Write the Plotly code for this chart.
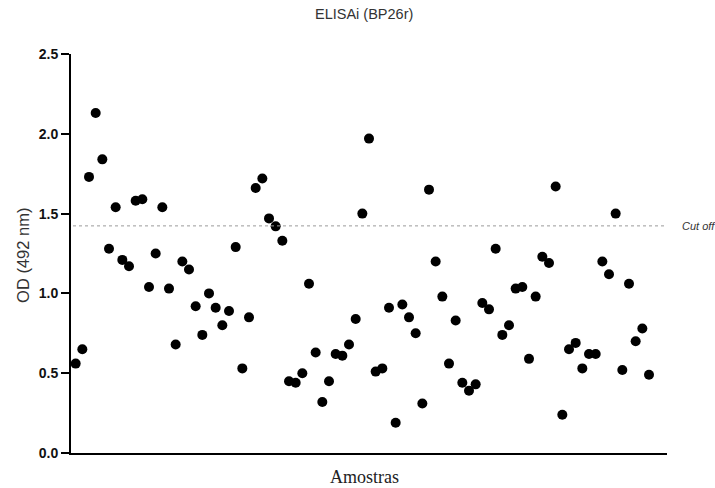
import plotly.graph_objects as go

samples = list(range(1, 88))
od_values = [
    0.56, 0.65, 1.73, 2.13, 1.84, 1.28, 1.54, 1.21, 1.17, 1.58,
    1.59, 1.04, 1.25, 1.54, 1.03, 0.68, 1.20, 1.15, 0.92, 0.74,
    1.00, 0.91, 0.80, 0.89, 1.29, 0.53, 0.85, 1.66, 1.72, 1.47,
    1.42, 1.33, 0.45, 0.44, 0.50, 1.06, 0.63, 0.32, 0.45, 0.62,
    0.61, 0.68, 0.84, 1.50, 1.97, 0.51, 0.53, 0.91, 0.19, 0.93,
    0.85, 0.75, 0.31, 1.65, 1.20, 0.98, 0.56, 0.83, 0.44, 0.39,
    0.43, 0.94, 0.90, 1.28, 0.74, 0.80, 1.03, 1.04, 0.59, 0.98,
    1.23, 1.19, 1.67, 0.24, 0.65, 0.69, 0.53, 0.62, 0.62, 1.20,
    1.12, 1.50, 0.52, 1.06, 0.70, 0.78, 0.49,
]
cutoff = 1.423
y_ticks = [0.0, 0.5, 1.0, 1.5, 2.0, 2.5]
y_ticktext = ["0.0", "0.5", "1.0", "1.5", "2.0", "2.5"]

fig = go.Figure()
fig.add_trace(go.Scatter(
    x=samples, y=od_values, mode="markers",
    marker=dict(color="black", size=10),
    showlegend=False, hoverinfo="y",
))

fig.add_shape(type="line", xref="x", yref="y",
              x0=0.6, x1=89.7, y0=cutoff, y1=cutoff,
              line=dict(color="#9a9a9a", width=1, dash="dot"))

fig.update_layout(
    width=715, height=488,
    margin=dict(l=71, r=48, t=54, b=35),
    paper_bgcolor="white", plot_bgcolor="white",
    font=dict(family="Liberation Sans, Arial, sans-serif", color="black"),
    xaxis=dict(range=[0.3, 89.7], showline=True, linewidth=2, linecolor="black",
               showticklabels=False, ticks="", showgrid=False, zeroline=False,
               automargin=False),
    yaxis=dict(range=[0, 2.5], tickvals=y_ticks, ticktext=y_ticktext,
               showline=True, linewidth=2, linecolor="black",
               ticks="outside", ticklen=8, tickwidth=2, tickcolor="black",
               tickfont=dict(size=14, color="#111111", family="Liberation Sans, Arial, sans-serif", weight="bold"),
               showgrid=False, zeroline=False, automargin=False),
    annotations=[
        dict(text="ELISAi (BP26r)", xref="paper", yref="paper", x=0.4916, y=1.100,
             xanchor="center", yanchor="middle", showarrow=False,
             font=dict(size=14.5, color="#333333")),
        dict(text="Amostras", xref="paper", yref="paper", x=0.493, y=-0.060,
             xanchor="center", yanchor="middle", showarrow=False,
             font=dict(size=18, family="Liberation Serif, Times New Roman, serif", color="#222222")),
        dict(text="OD (492 nm)", xref="paper", yref="paper", x=-0.0805, y=0.494,
             xanchor="center", yanchor="middle", showarrow=False, textangle=-90,
             font=dict(size=16.5, color="#333333")),
        dict(text="<i>Cut off</i>", xref="paper", yref="y", x=1.0218, y=cutoff,
             xanchor="left", yanchor="middle", showarrow=False,
             font=dict(size=11, color="#333333")),
    ],
)

fig.write_html("out.html",
               config={"displayModeBar": False},
               post_script="document.body.style.margin='0';document.body.style.overflow='hidden';")
